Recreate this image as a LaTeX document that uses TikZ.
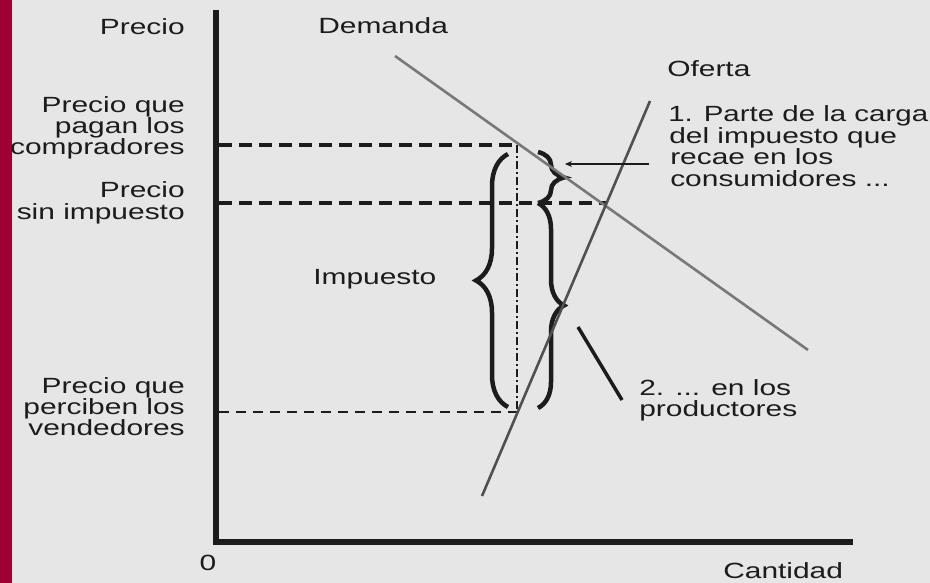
\documentclass[tikz,border=0pt]{standalone}
\usepackage{fontspec}
\setmainfont{Liberation Sans}
\usetikzlibrary{decorations.pathreplacing,arrows.meta}
\definecolor{bg}{RGB}{230,230,230}
\definecolor{barred}{RGB}{158,0,52}
\definecolor{ink}{RGB}{28,28,28}
\definecolor{demcol}{RGB}{120,120,120}
\definecolor{supcol}{RGB}{80,80,80}
\begin{document}
\begin{tikzpicture}[x=1pt,y=-1pt,
 txt/.style={font=\fontsize{22}{24}\selectfont, inner sep=0pt, text=ink, xscale=1.36},
 lbl/.style={txt, anchor=base east},
 rlbl/.style={txt, anchor=base west},
 axisline/.style={line width=6pt, draw=ink, line join=miter},
 bigdash/.style={line width=3.5pt, draw=ink, dash pattern=on 13pt off 7pt},
 smalldash/.style={line width=2pt, draw=ink, dash pattern=on 10pt off 7pt},
 dashdot/.style={line width=1.6pt, draw=ink, dash pattern=on 8pt off 3pt on 2pt off 3pt},
 curvestyle/.style={line width=2.6pt},
 bracestyle/.style={line width=4.5pt, draw=ink, decorate, decoration={brace, amplitude=#1}},
]
\useasboundingbox (0,0) rectangle (930,583);
\fill[bg] (0,0) rectangle (930,583);
\fill[barred] (0,0) rectangle (12,583);

% axes
\coordinate (ytop) at (216,10);
\coordinate (org) at (216,542);
\coordinate (xend) at (853,542);
\draw[axisline] (ytop) -- (org) -- (xend);

% key points
\coordinate (d1) at (395,56);
\coordinate (d2) at (808,350);
\coordinate (s1) at (482,496);
\coordinate (s2) at (650,101);
\coordinate (eq) at (607,203);
\coordinate (pc) at (519,145);
\coordinate (pv) at (518,412);
\coordinate (yc) at (219,145);
\coordinate (ys) at (219,203);
\coordinate (yv) at (219,412);
\coordinate (vtop) at (517,145);
\coordinate (vbot) at (517,412);

% dashed lines
\draw[bigdash] (yc) -- (pc);
\draw[bigdash] (ys) -- (eq);
\draw[smalldash] (yv) -- (pv);
\draw[dashdot] (vtop) -- (vbot);

% braces
\coordinate (lbt) at (508,154);
\coordinate (lbb) at (508,407);
\draw[bracestyle=32] (lbb) -- (lbt);
\coordinate (ubt) at (538,152);
\coordinate (ubb) at (538,203);
\draw[bracestyle=26] (ubt) -- (ubb);
\coordinate (dbt) at (538,203);
\coordinate (dbb) at (538,408);
\draw[bracestyle=26] (dbt) -- (dbb);

% curves
\draw[curvestyle, demcol] (d1) -- (d2);
\draw[curvestyle, supcol] (s1) -- (s2);

% pointers
\coordinate (a1s) at (649,164);
\coordinate (a1e) at (565,164);
\draw[line width=1.6pt, ink, -{Stealth[length=7pt,width=6pt]}] (a1s) -- (a1e);
\coordinate (a2s) at (578,327);
\coordinate (a2e) at (622,400);
\draw[line width=3.5pt, ink] (a2s) -- (a2e);

% labels
\node[lbl] (lp) at (185,35) {Precio};
\node[lbl] (lc1) at (185,113) {Precio que};
\node[lbl] (lc2) at (185,134) {pagan los};
\node[lbl] (lc3) at (185,155) {compradores};
\node[lbl] (ls1) at (185,198) {Precio};
\node[lbl] (ls2) at (185,220) {sin impuesto};
\node[lbl] (lv1) at (185,393) {Precio que};
\node[lbl] (lv2) at (185,414) {perciben los};
\node[lbl] (lv3) at (185,435) {vendedores};
\node[txt, anchor=base] (zero) at (208,570) {0};
\node[rlbl] (dem) at (318,34) {Demanda};
\node[rlbl] (ofe) at (667,77) {Oferta};
\node[rlbl] (imp) at (313,284) {Impuesto};
\node[rlbl, xscale=0.985] (c1) at (668,122) {1. Parte de la carga};
\node[rlbl] (c2) at (669,143.5) {del impuesto que};
\node[rlbl] (c3) at (670,165) {recae en los};
\node[rlbl] (c4) at (670,187) {consumidores ...};
\node[rlbl] (p1) at (639,395) {2. ... en los};
\node[rlbl] (p2) at (639,416) {productores};
\node[rlbl] (cant) at (723,578) {Cantidad};
\end{tikzpicture}
\end{document}
